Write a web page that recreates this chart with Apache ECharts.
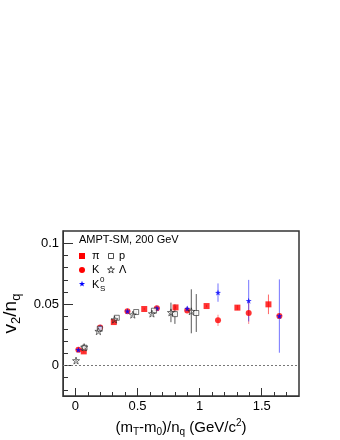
<!DOCTYPE html>
<html>
<head>
<meta charset="UTF-8" />
<title>v2/nq</title>
<style>
* { margin: 0; padding: 0; }
html, body { background: #fff; }
#chart { width: 340px; height: 440px; }
</style>
</head>
<body>
<div id="chart"></div>
<script src="https://cdn.jsdelivr.net/npm/echarts@6/dist/echarts.min.js"></script>
<script>
// values: x = (mT-m0)/nq, y = v2/nq, e = error
const piX = [0.067, 0.309, 0.554, 0.806, 1.056, 1.304, 1.554]
const piY = [0.0115, 0.0355, 0.0462, 0.0475, 0.0486, 0.0473, 0.050]
const piE = [0.001, 0.001, 0.001, 0.001, 0.001, 0.002, 0.008]

const kX = [0.024, 0.199, 0.419, 0.656, 0.900, 1.148, 1.395, 1.642]
const kY = [0.0128, 0.031, 0.0443, 0.0467, 0.045, 0.0369, 0.0429, 0.0404]
const kE = [0.001, 0.001, 0.001, 0.001, 0.001, 0.0046, 0.009, 0.001]

const k0X = [0.024, 0.199, 0.419, 0.656, 0.900, 1.148, 1.395, 1.642]
const k0Y = [0.0128, 0.031, 0.0443, 0.0467, 0.0465, 0.0596, 0.053, 0.0404]
const k0E = [0.001, 0.001, 0.001, 0.001, 0.002, 0.0075, 0.017, 0.030]

const pX = [0.073, 0.196, 0.333, 0.489, 0.632, 0.801, 0.973]
const pY = [0.0145, 0.030, 0.039, 0.0437, 0.0448, 0.042, 0.0429]
const pE = [0.001, 0.001, 0.001, 0.001, 0.001, 0.008, 0.0155]

const lamX = [0.005, 0.070, 0.185, 0.315, 0.462, 0.616, 0.769, 0.933]
const lamY = [0.004, 0.015, 0.028, 0.0375, 0.0415, 0.0424, 0.0434, 0.0443]
const lamE = [0.001, 0.001, 0.001, 0.001, 0.001, 0.001, 0.008, 0.018]

const xMajor = [0, 0.5, 1, 1.5]
const xMinor = [-0.1, 0.1, 0.2, 0.3, 0.4, 0.6, 0.7, 0.8, 0.9, 1.1, 1.2, 1.3, 1.4, 1.6, 1.7]
const yMajor = [0, 0.05, 0.1]
const yMinor = [-0.02, -0.01, 0.01, 0.02, 0.03, 0.04, 0.06, 0.07, 0.08, 0.09]

const star = 'path://M0,-10L2.35,-3.24L9.51,-3.09L3.8,1.24L5.88,8.09L0,4L-5.88,8.09L-3.8,1.24L-9.51,-3.09L-2.35,-3.24Z'
const font = 'Liberation Sans'

function pts(xs, ys, es) {
  return xs.map((x, i) => [x, ys[i], es[i]])
}

// star outline for the legend icons
function starPts(cx, cy, r) {
  let out = []
  for (let i = 0; i < 10; i++) {
    let a = -Math.PI / 2 + i * Math.PI / 5
    let rr = i % 2 ? r * 0.4 : r
    out.push([cx + rr * Math.cos(a), cy + rr * Math.sin(a)])
  }
  return out
}

function errBars(name, xs, ys, es, color) {
  return {
    type: 'custom',
    name: name + '-err',
    silent: true,
    z: 1,
    data: pts(xs, ys, es),
    renderItem: (params, api) => {
      let x = api.value(0), y = api.value(1), e = api.value(2)
      let a = api.coord([x, y + e])
      let b = api.coord([x, y - e])
      return {
        type: 'line',
        shape: { x1: a[0], y1: a[1], x2: b[0], y2: b[1] },
        style: { stroke: color, lineWidth: 1 }
      }
    }
  }
}

function dots(name, xs, ys, symbol, size, style, z) {
  return {
    type: 'scatter',
    name: name,
    symbol: symbol,
    symbolSize: size,
    z: z,
    data: xs.map((x, i) => [x, ys[i]]),
    itemStyle: style
  }
}

let chart = echarts.init(document.getElementById('chart'))

let axisBase = {
  type: 'value',
  splitLine: { show: false },
  axisLine: { show: true, onZero: false, lineStyle: { color: '#333', width: 1 } }
}
let hiddenLine = { show: false, onZero: false }

let txt = (x, y, s, size) => ({
  type: 'text', x: x, y: y,
  style: { text: s, fill: '#000', font: (size || 11) + 'px "Liberation Sans"', textVerticalAlign: 'middle' }
})

let option = {
  backgroundColor: '#fff',
  animation: false,
  grid: { left: 63, right: 41, top: 231, bottom: 44, show: true, borderColor: '#333', borderWidth: 1.5, outerBoundsMode: 'none' },
  xAxis: [
    Object.assign({}, axisBase, {
      min: -0.1, max: 1.8,
      name: '(m{s|T}-m{s|0})/n{s|q} (GeV/c{u|2})',
      nameLocation: 'middle',
      nameGap: 22,
      nameTextStyle: {
        color: '#000', fontFamily: font, fontSize: 15,
        rich: {
          s: { fontSize: 10, fontFamily: font, color: '#000', padding: [9, 0, 0, 0] },
          u: { fontSize: 10, fontFamily: font, color: '#000', padding: [0, 0, 8, 0] }
        }
      },
      axisTick: { show: true, inside: true, length: 8, customValues: xMajor, lineStyle: { color: '#333' } },
      axisLabel: { customValues: xMajor, color: '#000', fontFamily: font, fontSize: 13, margin: 4,
        formatter: v => String(v) }
    }),
    Object.assign({}, axisBase, {
      min: -0.1, max: 1.8,
      position: 'bottom',
      axisLine: hiddenLine,
      axisTick: { show: true, inside: true, length: 4, customValues: xMinor, lineStyle: { color: '#333' } },
      axisLabel: { show: false }
    })
  ],
  yAxis: [
    Object.assign({}, axisBase, {
      min: -0.025, max: 0.11,
      name: 'v{s|2}/n{s|q}',
      nameLocation: 'middle',
      nameRotate: 90,
      nameGap: 38,
      nameTextStyle: {
        color: '#000', fontFamily: font, fontSize: 19,
        rich: {
          s: { fontSize: 13, fontFamily: font, color: '#000', padding: [11, 0, 0, 0] }
        }
      },
      axisTick: { show: true, inside: true, length: 10, customValues: yMajor, lineStyle: { color: '#333' } },
      axisLabel: { customValues: yMajor, color: '#000', fontFamily: font, fontSize: 13, margin: 4,
        formatter: v => String(v) }
    }),
    Object.assign({}, axisBase, {
      min: -0.025, max: 0.11,
      position: 'left',
      axisLine: hiddenLine,
      axisTick: { show: true, inside: true, length: 5, customValues: yMinor, lineStyle: { color: '#333' } },
      axisLabel: { show: false }
    })
  ],
  series: [
    errBars('pi', piX, piY, piE, 'rgba(255,0,0,0.6)'),
    errBars('K', kX, kY, kE, 'rgba(255,0,0,0.45)'),
    errBars('K0s', k0X, k0Y, k0E, 'rgba(0,0,255,0.55)'),
    errBars('p', pX, pY, pE, 'rgba(60,60,60,0.85)'),
    errBars('Lambda', lamX, lamY, lamE, 'rgba(60,60,60,0.85)'),
    Object.assign(dots('pi', piX, piY, 'rect', 6, { color: '#ff0000' }, 3), {
      markLine: {
        silent: true, symbol: 'none', label: { show: false },
        lineStyle: { type: [2, 2], color: '#777', width: 1 },
        data: [{ yAxis: 0 }]
      }
    }),
    dots('K', kX, kY, 'circle', 6, { color: '#ff0000' }, 3),
    dots('K0s', k0X, k0Y, star, 6, { color: '#0000ff' }, 4),
    dots('p', pX, pY, 'rect', 5, { color: '#fff', borderColor: '#222', borderWidth: 0.8 }, 5),
    dots('Lambda', lamX, lamY, star, 7, { color: 'rgba(255,255,255,0)', borderColor: '#222', borderWidth: 0.8 }, 5)
  ],
  graphic: [
    txt(79, 240, 'AMPT-SM, 200 GeV'),
    { type: 'rect', shape: { x: 79, y: 253, width: 6, height: 6 }, style: { fill: '#ff0000' } },
    txt(92, 256, 'π'),
    { type: 'rect', shape: { x: 108.5, y: 253.5, width: 5, height: 5 }, style: { fill: '#fff', stroke: '#222', lineWidth: 0.8 } },
    txt(119, 256, 'p'),
    { type: 'circle', shape: { cx: 82, cy: 270, r: 3 }, style: { fill: '#ff0000' } },
    txt(92, 270, 'K'),
    { type: 'polygon', shape: { points: starPts(111, 270, 3.6) }, style: { fill: 'none', stroke: '#222', lineWidth: 0.8 } },
    txt(119, 270, 'Λ'),
    { type: 'polygon', shape: { points: starPts(82, 284, 3.2) }, style: { fill: '#0000ff' } },
    txt(92, 285, 'K'),
    txt(100, 280, '0', 8),
    txt(100, 289, 'S', 8)
  ]
}

chart.setOption(option)
</script>
</body>
</html>
